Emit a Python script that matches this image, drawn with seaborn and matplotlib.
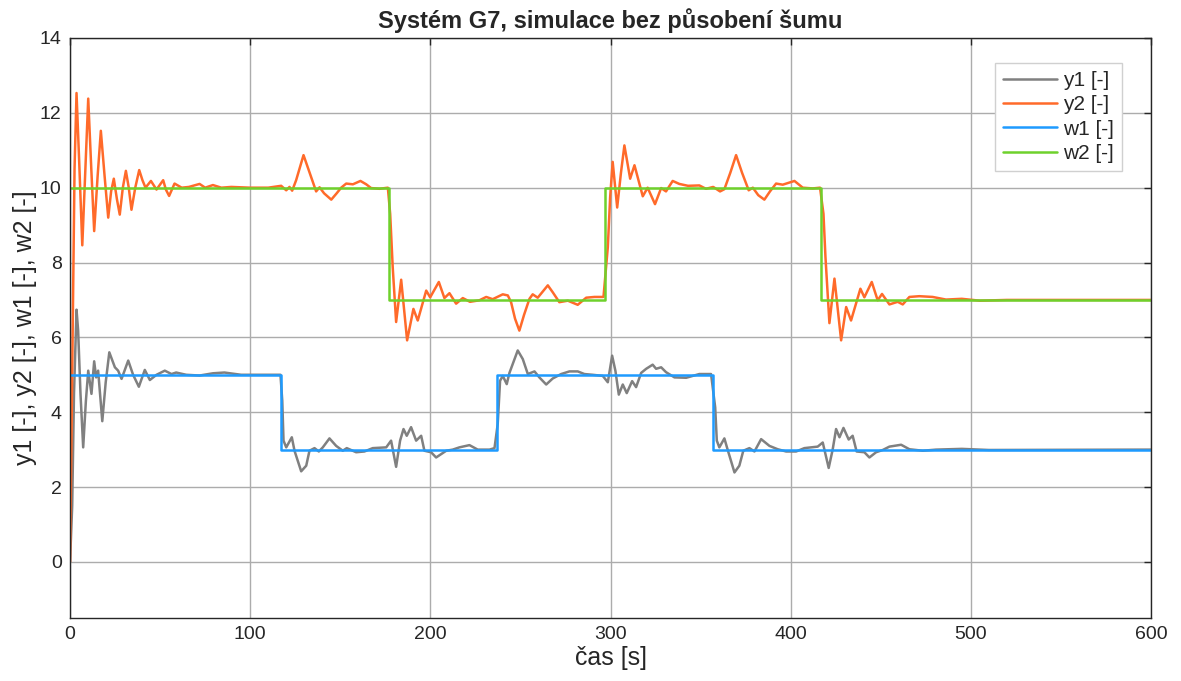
import numpy as np
import pandas as pd
import matplotlib
matplotlib.use("Agg")
import matplotlib.pyplot as plt
import seaborn as sns

# ---- data ----
t_y1 = [0, 1.2, 2.2, 3.6, 4.5, 5.8, 7.3, 8.8, 10.1, 11.9, 13.4, 14.5, 15.6, 17.9, 19.8, 21.8,
        24.9, 26.7, 28.6, 32.3, 35, 38.2, 41.5, 44.3, 48.0, 52.6, 56.3, 58.9, 64.5, 71.9, 79.3,
        85.7, 95, 116.8, 117.8, 118.5, 120.0, 123.1, 124.6, 128.3, 131.1, 132.9, 135.7, 138.1,
        140.3, 144.0, 147.7, 151.4, 153.6, 158.8, 163.4, 168.0, 175.5, 178.2, 181.0, 183.2,
        185.1, 186.9, 189.3, 192.1, 194.9, 196.7, 200.4, 203.2, 206.0, 208.8, 212.4, 216.1,
        221.7, 226.3, 232.8, 235.6, 237.4, 238.7, 240.2, 242.4, 243.9, 248.5, 251.3, 254.1,
        257.8, 260.5, 264.3, 267.9, 272.6, 277.2, 281.8, 285.5, 290.1, 295.7, 298.5, 300.9,
        302.7, 304.6, 306.8, 309.0, 312.0, 314.2, 317.0, 319.8, 323.4, 325.3, 328.1, 330.8,
        335.5, 342.0, 349.3, 355.8, 358.1, 359.0, 360.4, 363.2, 365.0, 368.8, 371.5, 373.7,
        377.1, 379.9, 383.6, 388.2, 392.8, 397.5, 403.0, 407.6, 415.0, 417.8, 421.1, 423.3,
        425.2, 427.1, 429.3, 432.2, 434.4, 436.6, 440.9, 443.7, 447.4, 451.1, 454.8, 461.3,
        465.9, 473.3, 480.7, 495, 510, 600]
v_y1 = [0, 1.5, 4.5, 6.74, 6.18, 4.5, 3.06, 4.3, 5.11, 4.49, 5.36, 4.93, 5.11, 3.76, 4.8, 5.6,
        5.2, 5.11, 4.89, 5.38, 5.0, 4.68, 5.13, 4.86, 5.0, 5.11, 5.02, 5.06, 5.0, 4.98, 5.04,
        5.06, 5.0, 5.0, 4.31, 3.24, 3.06, 3.33, 2.97, 2.42, 2.57, 2.97, 3.04, 2.95,
        3.06, 3.3, 3.1, 2.97, 3.04, 2.93, 2.95, 3.04, 3.06, 3.24, 2.54, 3.24,
        3.55, 3.37, 3.6, 3.24, 3.37, 2.97, 2.93, 2.79, 2.88, 2.97, 3.0, 3.06,
        3.12, 3.0, 3.0, 3.04, 3.69, 4.84, 4.97, 4.75, 5.05, 5.65, 5.42, 5.02,
        5.09, 4.93, 4.74, 4.9, 5.02, 5.09, 5.09, 5.02, 5.0, 4.97, 4.8, 5.51,
        5.11, 4.47, 4.74, 4.51, 4.83, 4.67, 5.05, 5.16, 5.27, 5.16, 5.2, 5.07,
        4.93, 4.92, 5.02, 5.02, 4.13, 3.24, 3.06, 3.3, 3.0, 2.39, 2.57, 2.97,
        3.04, 2.95, 3.28, 3.1, 3.01, 2.95, 2.95, 3.04, 3.08, 3.19, 2.51, 3.0,
        3.55, 3.33, 3.58, 3.27, 3.37, 2.95, 2.93, 2.79, 2.93, 2.99, 3.08, 3.13,
        3.01, 2.97, 3.0, 3.02, 2.99, 3.0]

t_y2 = [0, 1.4, 2.5, 3.6, 5.0, 6.8, 8.5, 10.1, 11.8, 13.4, 15.3, 17.1, 19.2, 21.2, 22.8, 24.3,
        26.0, 27.6, 29.3, 31.0, 32.6, 34.1, 36.2, 38.4, 40.2, 41.9, 44.9, 48.0, 51.7, 53.2,
        55.0, 58.0, 62.0, 66, 71.9, 75, 79.3, 84, 89.5, 100, 110, 117.2, 120, 121.8, 123.3,
        125.5, 129.6, 133, 136.6, 138.5, 141, 145, 148, 150.5, 153.3, 157, 161.2, 164.4,
        167.1, 171.8, 176.4, 177.7, 179.1, 181.0, 183.8, 187.1, 190.6, 193.0, 197.7, 199.9,
        204.7, 207.8, 210.6, 214.3, 218, 222, 227.2, 231.0, 234.6, 240.2, 243.0, 244.8, 247,
        249.4, 252, 255, 256.8, 259.6, 262, 265.2, 268, 271.6, 276.3, 281.8, 286.5, 291.1,
        296.1, 298.5, 299.8, 301.2, 303.7, 305.8, 307.7, 310.9, 313.3, 317.9, 320.6, 324.7,
        328.1, 330.8, 334.5, 338.2, 343, 349.3, 353, 357, 360.8, 363.2, 366.5, 369.7, 373,
        376.7, 379.0, 382, 385.4, 388.5, 391.9, 395.6, 402.1, 406.7, 412.2, 416.3, 418.2,
        419.3, 421.5, 424.3, 428.0, 430.8, 433.5, 438.7, 440.9, 445.0, 448.3, 450.7, 454.8,
        459.4, 462.2, 465.9, 471.4, 478.8, 486.2, 495, 505, 520, 600]
v_y2 = [0, 6.0, 10.5, 12.53, 10.8, 8.46, 10.5, 12.38, 10.5, 8.84, 10.3, 11.52, 10.3, 9.2, 9.9, 10.24,
        9.7, 9.28, 10.0, 10.45, 10.0, 9.41, 10.0, 10.47, 10.2, 10.0, 10.18, 9.95, 10.2, 9.95,
        9.78, 10.11, 10.0, 10.02, 10.1, 10.0, 10.07, 10.0, 10.02, 10.0, 10.0, 10.05, 9.93, 10.02, 9.92,
        10.2, 10.87, 10.4, 9.9, 10.01, 9.85, 9.68, 9.85, 10.0, 10.11, 10.09, 10.18, 10.09,
        9.99, 9.97, 10.0, 9.3, 7.88, 6.41, 7.54, 5.92, 6.76, 6.45, 7.25, 7.07,
        7.48, 7.05, 7.18, 6.9, 7.05, 6.95, 6.99, 7.08, 7.02, 7.15, 7.12, 6.94, 6.5,
        6.18, 6.6, 7.03, 7.15, 7.06, 7.2, 7.39, 7.2, 6.94, 6.98, 6.87, 7.06, 7.08,
        7.08, 8.41, 9.75, 10.69, 9.47, 10.4, 11.13, 10.24, 10.6, 9.77, 10.0, 9.56,
        9.99, 9.9, 10.18, 10.1, 10.05, 10.06, 9.97, 10.02, 9.9, 9.96, 10.4, 10.87, 10.4,
        9.93, 10.0, 9.8, 9.68, 9.9, 10.11, 10.08, 10.18, 10.0, 9.98, 10.0, 9.3,
        8.15, 6.38, 7.57, 5.92, 6.81, 6.45, 7.3, 7.07, 7.48, 6.99, 7.16, 6.88,
        6.95, 6.88, 7.08, 7.1, 7.08, 7.01, 7.03, 6.98, 7.0, 7.0]

t_w1 = [0, 117, 237, 357, 600]
v_w1 = [5, 3, 5, 3, 3]
t_w2 = [0, 177, 297, 417, 600]
v_w2 = [10, 7, 10, 7, 7]

labels = ["y1 [-]", "y2 [-]", "w1 [-]", "w2 [-]"]
colors = ["#808080", "#FF6A2A", "#1E9BFF", "#6ED12C"]
x_ticks = [0, 100, 200, 300, 400, 500, 600]
y_ticks = [0, 2, 4, 6, 8, 10, 12, 14]

# ---- plotting ----
sns.set_theme(style="white")
plt.rcParams["font.family"] = ["Liberation Sans", "DejaVu Sans"]

fig = plt.figure(figsize=(11.81, 6.81), dpi=100)
ax = fig.add_axes([0.0593, 0.0925, 0.9153, 0.8517])

series = [(t_y1, v_y1, None), (t_y2, v_y2, None),
          (t_w1, v_w1, "steps-post"), (t_w2, v_w2, "steps-post")]
for (tx, vy, ds), lab, col in zip(series, labels, colors):
    kw = {"drawstyle": ds} if ds else {}
    sns.lineplot(x=tx, y=vy, ax=ax, color=col, linewidth=1.8, label=lab,
                 estimator=None, sort=False, **kw)

ax.set_xlim(0, 600)
ax.set_ylim(-1.5, 14)
ax.set_xticks(x_ticks)
ax.set_yticks(y_ticks)
ax.grid(True, color="#acacac", linewidth=1.0)
ax.set_axisbelow(True)
for s in ax.spines.values():
    s.set_color("#262626")
    s.set_linewidth(1.0)
ax.tick_params(direction="in", top=True, right=True, length=5, width=1,
               labelsize=14, colors="#262626", pad=6)

ax.set_title("Systém G7, simulace bez působení šumu", fontsize=17,
             fontweight="bold", pad=7)
ax.set_xlabel("čas [s]", fontsize=18, labelpad=2)
ax.set_ylabel("y1 [-], y2 [-], w1 [-], w2 [-]", fontsize=18, labelpad=2)

leg = ax.legend(loc="upper right", bbox_to_anchor=(0.973, 0.957), borderaxespad=0,
                fontsize=15, frameon=True, fancybox=False, framealpha=1,
                edgecolor="#d0d0d0", handlelength=2.6, borderpad=0.4,
                labelspacing=0.25, handletextpad=0.25)

fig.savefig("out.png", dpi=100)
